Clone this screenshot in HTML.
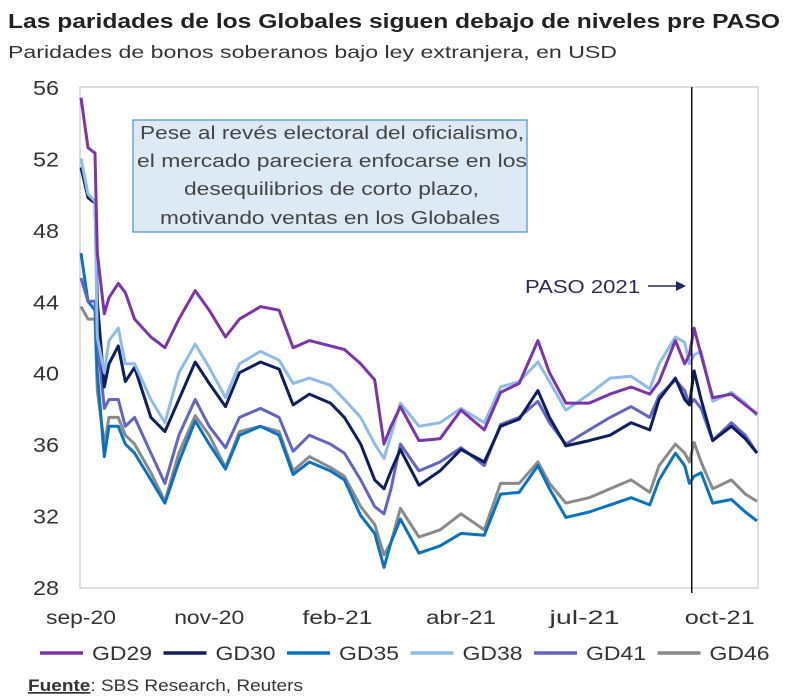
<!DOCTYPE html>
<html><head><meta charset="utf-8">
<style>
body{margin:0;background:#fff;font-family:"Liberation Sans",sans-serif;}
svg{display:block}
</style></head><body>
<svg width="800" height="696" viewBox="0 0 800 696" xmlns="http://www.w3.org/2000/svg">
<text x="8" y="28" font-size="20.5" font-weight="bold" fill="#222" textLength="772" lengthAdjust="spacingAndGlyphs">Las paridades de los Globales siguen debajo de niveles pre PASO</text>
<text x="8" y="58" font-size="17.5" fill="#333" textLength="609" lengthAdjust="spacingAndGlyphs">Paridades de bonos soberanos bajo ley extranjera, en USD</text>
<rect x="80" y="87" width="678" height="501" fill="none" stroke="#d4d4d4" stroke-width="1.5"/>
<g id="yaxis"></g>
<g id="xaxis"></g>
<g id="series"></g>
<g>
<rect x="133" y="120" width="394" height="112" fill="#dde9f5" stroke="#4a8fd0" stroke-width="1.2"/>
<g font-size="18" fill="#444" lengthAdjust="spacingAndGlyphs">
<text x="140" y="139" textLength="384" lengthAdjust="spacingAndGlyphs">Pese al revés electoral del oficialismo,</text>
<text x="137" y="167" textLength="390" lengthAdjust="spacingAndGlyphs">el mercado pareciera enfocarse en los</text>
<text x="184" y="195" textLength="295" lengthAdjust="spacingAndGlyphs">desequilibrios de corto plazo,</text>
<text x="160" y="224" textLength="340" lengthAdjust="spacingAndGlyphs">motivando ventas en los Globales</text>
</g></g>
<g id="paso">
<text x="525" y="293" font-size="18" fill="#2b2b55" textLength="115" lengthAdjust="spacingAndGlyphs">PASO 2021</text>
<line x1="648" y1="286" x2="676" y2="286" stroke="#1a2a60" stroke-width="1.5"/>
<polygon points="676,281 686,286 676,291" fill="#1a2a60"/>
</g>
<g id="legend"></g>
<text x="28" y="691" font-size="17" fill="#333" textLength="275" lengthAdjust="spacingAndGlyphs"><tspan font-weight="bold" text-decoration="underline">Fuente</tspan>: SBS Research, Reuters</text>
</svg>
<script>
const idx=[0,3,6,7,10,12,16,19,23,30,36,42,49,55,62,68,77,85,91,98,107,113,120,126,130,133,137,145,154,163,173,180,188,196,201,208,218,227,236,244,248,255,259,261,263,266,271,279,285,290];
const gd29=[55.4,52.6,52.3,46.7,43.3,44.2,45,44.5,43,42,41.4,43,44.6,43.5,42,43,43.7,43.5,41.4,41.8,41.5,41.3,40.5,39.6,36,37,38.1,36.2,36.3,37.9,36.8,38.9,39.4,41.8,40,38.3,38.3,38.8,39.2,38.8,39.5,41.8,40.5,41,42.5,41,38.6,38.8,38.2,37.7];
const gd30=[51.5,49.8,49.5,44,39.2,40.5,41.5,39.5,40.3,37.5,36.7,38.5,40.6,39.4,38.1,40,40.6,40.2,38.2,38.8,38.3,37.5,36,34,33.5,34.5,35.7,33.7,34.5,35.7,35,37,37.4,39,37.5,35.9,36.2,36.5,37.2,36.8,38.5,39.7,38.5,38.2,40.1,38.5,36.2,37,36.3,35.5];
const gd35=[46.7,44,43.5,40,35.3,37,37,36,35.5,34,32.7,35,37.3,36,34.6,36.5,37,36.5,34.3,35,34.5,34,32,31,29.1,30.5,31.8,29.9,30.3,31,30.9,33.2,33.3,34.8,33.5,31.9,32.2,32.6,33,32.6,34,35.5,34.8,33.8,34.2,34.4,32.7,32.9,32.2,31.7];
const gd38=[52,50,49.6,42,40,41.8,42.5,40.5,40.5,38.5,37.2,40,41.6,40.3,38.6,40.5,41.2,40.7,39.4,39.7,39.3,38.5,37.5,36,35.2,36.5,38.3,37,37.2,38,37.2,39.2,39.5,40.6,39.5,37.9,38.8,39.7,39.8,39.1,40.5,42,41.7,40.5,41,41.2,38.4,38.9,38.3,37.6];
const gd41=[45.3,44,44,42,38,38.5,38.5,37,37.5,35.5,33.8,36.5,38.5,37,35.8,37.5,38,37.5,35.6,36.5,36,35.5,34,32.5,32.1,33.5,36,34.5,35,35.8,34.8,37.1,37.5,38.4,37.2,36,36.8,37.5,38.1,37.5,38.7,39.6,39,38.2,38.5,38,36.2,37.2,36.5,35.5];
const gd46=[43.7,43,43,39,36,37.5,37.5,36.5,36,34.4,32.8,35.5,37.6,36.5,34.7,36.7,37,36.7,34.5,35.3,34.7,34.2,32.5,31.5,29.8,30.5,32.4,30.8,31.2,32.1,31.2,33.8,33.8,35,33.8,32.7,33,33.5,34,33.3,34.8,36,35.5,35,36.1,35,33.5,34,33.2,32.8];
const seriesNames=["GD29","GD30","GD35","GD38","GD41","GD46"];
const yTicks=[56,52,48,44,40,36,32,28];
const xTickLabels=["sep-20","nov-20","feb-21","abr-21","jul-21","oct-21"];
const xTickIdx=[0,55,110,163,216,274];
const pasoIdx=262;
const NS="http://www.w3.org/2000/svg";
const X=i=>81+i*676/290;
const Y=v=>87+(56-v)*500/28;
const colors=["#7a35aa","#0d1f5e","#0b72c2","#8fbbe9","#6464c4","#8a8a8a"];
const data=[gd29,gd30,gd35,gd38,gd41,gd46];
const ya=document.getElementById('yaxis');
yTicks.forEach(t=>{const e=document.createElementNS(NS,'text');


e.setAttribute('x',59);e.setAttribute('y',Y(t)+8);e.setAttribute('text-anchor','end');e.setAttribute('font-size','20');e.setAttribute('fill','#333');e.setAttribute('textLength','26');e.setAttribute('lengthAdjust','spacingAndGlyphs');e.textContent=t;ya.appendChild(e);});
const xa=document.getElementById('xaxis');
xTickLabels.forEach((l,k)=>{const e=document.createElementNS(NS,'text');


e.setAttribute('x',X(xTickIdx[k]));e.setAttribute('y',624);e.setAttribute('text-anchor','middle');e.setAttribute('font-size','19');e.setAttribute('fill','#333');e.setAttribute('textLength','70');e.setAttribute('lengthAdjust','spacingAndGlyphs');e.textContent=l;xa.appendChild(e);});
const sg=document.getElementById('series');
const order=[5,2,4,1,3,0];
order.forEach(s=>{const p=document.createElementNS(NS,'polyline');


p.setAttribute('points',idx.map((i,k)=>X(i).toFixed(1)+','+Y(data[s][k]).toFixed(1)).join(' '));
p.setAttribute('fill','none');p.setAttribute('stroke',colors[s]);p.setAttribute('stroke-width','3');p.setAttribute('stroke-linejoin','round');sg.appendChild(p);});
const vl=document.createElementNS(NS,'line');


vl.setAttribute('x1',X(pasoIdx));vl.setAttribute('x2',X(pasoIdx));vl.setAttribute('y1',87);vl.setAttribute('y2',593);vl.setAttribute('stroke','#111');vl.setAttribute('stroke-width','1.5');
document.getElementById('paso').appendChild(vl);
const lg=document.getElementById('legend');
seriesNames.forEach((n,k)=>{const x0=40+k*123.5;
const l=document.createElementNS(NS,'line');


l.setAttribute('x1',x0);l.setAttribute('x2',x0+43);l.setAttribute('y1',653);l.setAttribute('y2',653);l.setAttribute('stroke',colors[k]);l.setAttribute('stroke-width','3.5');lg.appendChild(l);
const t=document.createElementNS(NS,'text');


t.setAttribute('x',x0+52);t.setAttribute('y',660);t.setAttribute('font-size','19');t.setAttribute('fill','#333');t.setAttribute('textLength','60');t.setAttribute('lengthAdjust','spacingAndGlyphs');t.textContent=n;lg.appendChild(t);});
</script>
</body></html>
